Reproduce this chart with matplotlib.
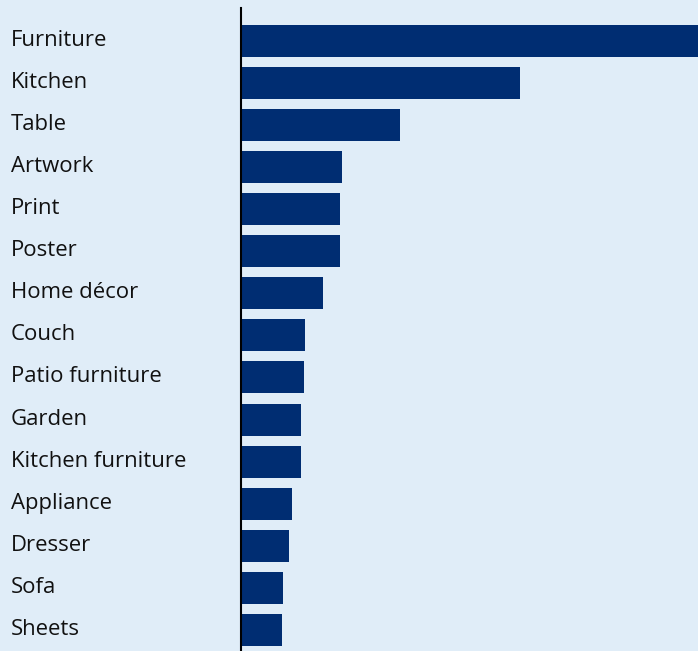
import matplotlib
matplotlib.use('Agg')
import matplotlib.pyplot as plt
import matplotlib.transforms as mtransforms

categories = ['Furniture', 'Kitchen', 'Table', 'Artwork', 'Print', 'Poster',
              'Home décor', 'Couch', 'Patio furniture', 'Garden',
              'Kitchen furniture', 'Appliance', 'Dresser', 'Sofa', 'Sheets']
values = [100, 61, 34.8, 22, 21.7, 21.7, 18, 14, 13.8, 13.1, 13.1, 11.2, 10.5, 9.2, 8.9]

BG = '#e0edf8'
BAR = '#002d72'

plt.rcParams['font.family'] = ['Open Sans', 'DejaVu Sans']

fig = plt.figure(figsize=(6.98, 6.51), dpi=100, facecolor=BG)
ax = fig.add_axes([241/698, 0, 457/698, 643/651], facecolor=BG)

y = list(range(len(categories)))
ax.barh(y, values, height=0.76, color=BAR, left=0)

ax.set_xlim(0, max(values))
ax.set_ylim(14.5, -0.78)

for s in ['top', 'right', 'bottom']:
    ax.spines[s].set_visible(False)
ax.spines['left'].set_linewidth(1.5)
ax.spines['left'].set_color('black')

ax.set_xticks([])
ax.set_yticks([])

# category labels, left aligned at the figure edge
trans = mtransforms.blended_transform_factory(fig.transFigure, ax.transData)
trans = trans + mtransforms.ScaledTranslation(0, 3/100, fig.dpi_scale_trans)
for yi, name in zip(y, categories):
    ax.text(11/698, yi, name, transform=trans, ha='left', va='center_baseline',
            fontsize=15.9, color='#111111', clip_on=False)

fig.savefig('out.png', dpi=100, facecolor=BG)
